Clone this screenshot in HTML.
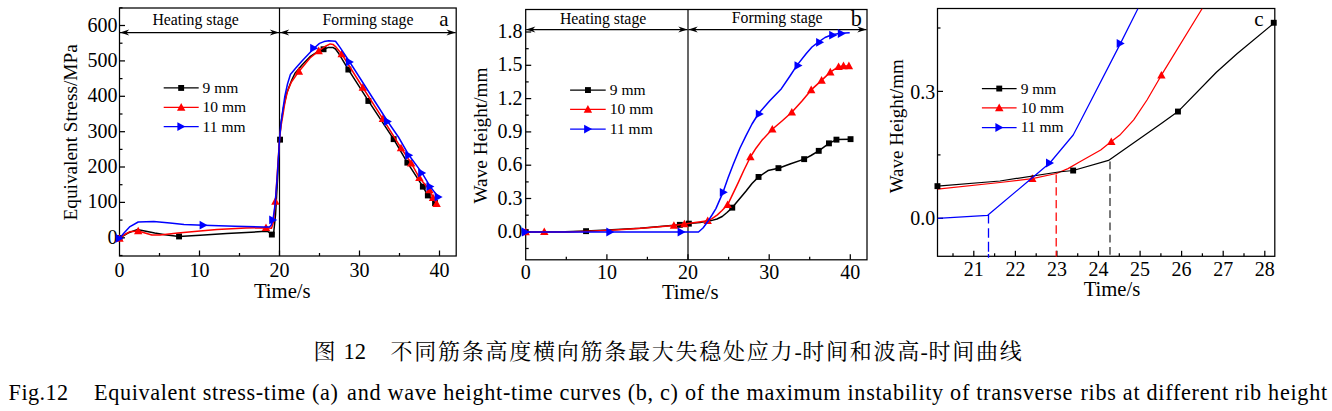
<!DOCTYPE html>
<html><head><meta charset="utf-8"><title>Fig.12</title>
<style>
html,body{margin:0;padding:0;background:#fff;}
body{width:1332px;height:411px;overflow:hidden;font-family:"Liberation Serif",serif;}
svg{display:block;font-family:"Liberation Serif",serif;}
svg text{fill:#000;}
</style></head><body>
<svg width="1332" height="411" viewBox="0 0 1332 411">
<rect width="1332" height="411" fill="#fff"/>
<rect x="119.5" y="8.0" width="336.7" height="248.0" fill="none" stroke="#000" stroke-width="1.25"/>
<line x1="199.5" y1="256.0" x2="199.5" y2="250.5" stroke="#000" stroke-width="1.25" /><line x1="279.5" y1="256.0" x2="279.5" y2="250.5" stroke="#000" stroke-width="1.25" /><line x1="359.5" y1="256.0" x2="359.5" y2="250.5" stroke="#000" stroke-width="1.25" /><line x1="439.5" y1="256.0" x2="439.5" y2="250.5" stroke="#000" stroke-width="1.25" /><line x1="159.5" y1="256.0" x2="159.5" y2="253.0" stroke="#000" stroke-width="1.25" /><line x1="239.5" y1="256.0" x2="239.5" y2="253.0" stroke="#000" stroke-width="1.25" /><line x1="319.5" y1="256.0" x2="319.5" y2="253.0" stroke="#000" stroke-width="1.25" /><line x1="399.5" y1="256.0" x2="399.5" y2="253.0" stroke="#000" stroke-width="1.25" /><text x="119.5" y="276.7" font-size="20.00" text-anchor="middle" >0</text><text x="199.5" y="276.7" font-size="20.00" text-anchor="middle" >10</text><text x="279.5" y="276.7" font-size="20.00" text-anchor="middle" >20</text><text x="359.5" y="276.7" font-size="20.00" text-anchor="middle" >30</text><text x="439.5" y="276.7" font-size="20.00" text-anchor="middle" >40</text>
<line x1="119.5" y1="237.8" x2="125.0" y2="237.8" stroke="#000" stroke-width="1.25" /><line x1="119.5" y1="202.4" x2="125.0" y2="202.4" stroke="#000" stroke-width="1.25" /><line x1="119.5" y1="167.0" x2="125.0" y2="167.0" stroke="#000" stroke-width="1.25" /><line x1="119.5" y1="131.7" x2="125.0" y2="131.7" stroke="#000" stroke-width="1.25" /><line x1="119.5" y1="96.3" x2="125.0" y2="96.3" stroke="#000" stroke-width="1.25" /><line x1="119.5" y1="60.9" x2="125.0" y2="60.9" stroke="#000" stroke-width="1.25" /><line x1="119.5" y1="25.5" x2="125.0" y2="25.5" stroke="#000" stroke-width="1.25" /><line x1="119.5" y1="255.5" x2="122.5" y2="255.5" stroke="#000" stroke-width="1.25" /><line x1="119.5" y1="220.1" x2="122.5" y2="220.1" stroke="#000" stroke-width="1.25" /><line x1="119.5" y1="184.7" x2="122.5" y2="184.7" stroke="#000" stroke-width="1.25" /><line x1="119.5" y1="149.4" x2="122.5" y2="149.4" stroke="#000" stroke-width="1.25" /><line x1="119.5" y1="114.0" x2="122.5" y2="114.0" stroke="#000" stroke-width="1.25" /><line x1="119.5" y1="78.6" x2="122.5" y2="78.6" stroke="#000" stroke-width="1.25" /><line x1="119.5" y1="43.2" x2="122.5" y2="43.2" stroke="#000" stroke-width="1.25" /><line x1="119.5" y1="7.8" x2="122.5" y2="7.8" stroke="#000" stroke-width="1.25" /><text x="117.5" y="243.8" font-size="20.00" text-anchor="end" >0</text><text x="117.5" y="208.4" font-size="20.00" text-anchor="end" >100</text><text x="117.5" y="173.0" font-size="20.00" text-anchor="end" >200</text><text x="117.5" y="137.7" font-size="20.00" text-anchor="end" >300</text><text x="117.5" y="102.3" font-size="20.00" text-anchor="end" >400</text><text x="117.5" y="66.9" font-size="20.00" text-anchor="end" >500</text><text x="117.5" y="31.5" font-size="20.00" text-anchor="end" >600</text>
<text x="282.3" y="297.8" font-size="20.70" text-anchor="middle" >Time/s</text>
<text transform="translate(77.3,132.4) rotate(-90)" font-size="19.30" text-anchor="middle">Equivalent Stress/MPa</text>
<line x1="279.5" y1="8.0" x2="279.5" y2="256.0" stroke="#000" stroke-width="1.20" />
<line x1="120.0" y1="32.6" x2="279.0" y2="32.6" stroke="#000" stroke-width="1.20" /><polygon points="120.0,32.6 129.2,29.6 126.4,32.6 129.2,35.6" fill="#000"/><polygon points="279.0,32.6 269.8,29.6 272.6,32.6 269.8,35.6" fill="#000"/>
<line x1="280.0" y1="32.6" x2="455.7" y2="32.6" stroke="#000" stroke-width="1.20" /><polygon points="280.0,32.6 289.2,29.6 286.4,32.6 289.2,35.6" fill="#000"/><polygon points="455.7,32.6 446.5,29.6 449.3,32.6 446.5,35.6" fill="#000"/>
<text x="195.6" y="24.6" font-size="15.80" text-anchor="middle" >Heating stage</text>
<text x="368.0" y="24.6" font-size="15.80" text-anchor="middle" >Forming stage</text>
<text x="444.0" y="25.5" font-size="21.00" text-anchor="middle" >a</text>
<line x1="163.7" y1="87.9" x2="198.7" y2="87.9" stroke="#000" stroke-width="1.25" /><rect x="178.2" y="85.0" width="5.9" height="5.9" fill="#000"/><text x="202.6" y="92.8" font-size="15.50" text-anchor="start" >9 mm</text><line x1="163.7" y1="107.4" x2="198.7" y2="107.4" stroke="#ff0000" stroke-width="1.25" /><polygon points="181.2,103.1 177.0,110.7 185.4,110.7" fill="#ff0000"/><text x="202.6" y="112.3" font-size="15.50" text-anchor="start" >10 mm</text><line x1="163.7" y1="126.6" x2="198.7" y2="126.6" stroke="#0000ff" stroke-width="1.25" /><polygon points="185.4,126.6 177.4,122.2 177.4,131.0" fill="#0000ff"/><text x="202.6" y="131.5" font-size="15.50" text-anchor="start" >11 mm</text>
<polyline points="119.5,238.0 128.0,233.0 137.0,229.6 146.0,231.2 154.7,233.0 165.0,234.8 179.0,236.4 200.0,235.2 226.7,233.5 261.8,231.6 268.0,231.6 271.9,234.5 273.5,234.5 275.5,215.0 277.5,180.0 279.5,139.5 281.0,123.0 283.4,108.0 286.5,94.0 289.4,86.0 292.0,79.5 295.0,73.2 302.0,65.0 310.0,56.7 317.0,52.0 323.5,49.3 328.0,47.6 332.8,47.4 335.5,49.0 338.2,52.7 348.4,69.6 368.4,100.9 393.6,139.2 407.4,162.6 422.9,186.6 427.8,195.4 436.6,204.0" fill="none" stroke="#000" stroke-width="1.50" stroke-linejoin="round"/>
<rect x="116.5" y="235.1" width="5.9" height="5.9" fill="#000"/>
<rect x="176.1" y="233.5" width="5.9" height="5.9" fill="#000"/>
<rect x="268.9" y="231.6" width="5.9" height="5.9" fill="#000"/>
<rect x="277.1" y="136.7" width="5.9" height="5.9" fill="#000"/>
<rect x="320.6" y="46.3" width="5.9" height="5.9" fill="#000"/>
<rect x="345.4" y="66.6" width="5.9" height="5.9" fill="#000"/>
<rect x="365.4" y="98.0" width="5.9" height="5.9" fill="#000"/>
<rect x="390.7" y="136.2" width="5.9" height="5.9" fill="#000"/>
<rect x="404.4" y="159.7" width="5.9" height="5.9" fill="#000"/>
<rect x="419.9" y="183.7" width="5.9" height="5.9" fill="#000"/>
<rect x="424.9" y="192.5" width="5.9" height="5.9" fill="#000"/>
<rect x="432.1" y="200.1" width="5.9" height="5.9" fill="#000"/>
<polyline points="119.5,238.5 124.0,235.0 129.5,231.8 138.2,231.0 145.0,233.0 151.8,235.0 160.0,235.0 178.0,233.0 200.0,231.0 217.0,229.6 246.0,228.0 266.0,227.7 271.5,228.2 273.5,222.0 275.4,201.4 277.5,170.0 279.5,140.0 281.0,126.0 282.8,115.6 285.0,102.0 287.4,91.5 291.4,82.0 298.9,71.4 310.0,58.0 318.7,50.9 325.0,46.5 330.2,43.9 333.0,44.4 335.5,46.6 341.7,54.0 362.8,87.5 382.9,118.8 401.0,148.0 411.2,163.2 419.4,177.8 429.6,190.0 433.0,197.7 436.6,203.6" fill="none" stroke="#ff0000" stroke-width="1.50" stroke-linejoin="round"/>
<polygon points="119.5,234.2 115.3,241.8 123.7,241.8" fill="#ff0000"/>
<polygon points="138.2,226.7 134.0,234.3 142.4,234.3" fill="#ff0000"/>
<polygon points="266.0,223.4 261.8,231.0 270.2,231.0" fill="#ff0000"/>
<polygon points="275.4,197.1 271.2,204.7 279.6,204.7" fill="#ff0000"/>
<polygon points="298.9,67.1 294.7,74.7 303.1,74.7" fill="#ff0000"/>
<polygon points="318.7,46.6 314.5,54.2 322.9,54.2" fill="#ff0000"/>
<polygon points="341.7,49.7 337.5,57.3 345.9,57.3" fill="#ff0000"/>
<polygon points="362.8,83.2 358.6,90.8 367.0,90.8" fill="#ff0000"/>
<polygon points="382.9,114.5 378.7,122.1 387.1,122.1" fill="#ff0000"/>
<polygon points="401.0,143.7 396.8,151.3 405.2,151.3" fill="#ff0000"/>
<polygon points="411.2,158.9 407.0,166.5 415.4,166.5" fill="#ff0000"/>
<polygon points="419.4,173.5 415.2,181.1 423.6,181.1" fill="#ff0000"/>
<polygon points="429.6,185.7 425.4,193.3 433.8,193.3" fill="#ff0000"/>
<polygon points="433.0,193.4 428.8,201.0 437.2,201.0" fill="#ff0000"/>
<polygon points="436.6,199.3 432.4,206.9 440.8,206.9" fill="#ff0000"/>
<polyline points="119.5,238.3 124.0,233.0 130.0,226.6 138.2,222.0 153.8,221.6 170.0,222.9 184.0,224.4 203.4,225.2 235.0,226.2 263.7,227.1 269.5,226.9 271.3,225.0 273.0,219.7 275.0,205.0 277.0,180.0 278.3,160.0 279.5,140.0 280.7,126.0 282.0,115.6 284.7,97.0 287.5,84.0 290.4,74.5 296.0,67.8 302.0,61.0 314.0,48.2 319.5,43.4 324.0,41.6 328.8,40.7 335.5,41.2 340.0,47.4 349.7,62.0 387.7,121.5 398.4,137.0 409.0,155.3 422.0,172.9 430.2,186.6 438.4,197.0" fill="none" stroke="#0000ff" stroke-width="1.50" stroke-linejoin="round"/>
<polygon points="123.7,238.3 115.7,233.9 115.7,242.7" fill="#0000ff"/>
<polygon points="207.6,225.2 199.6,220.8 199.6,229.6" fill="#0000ff"/>
<polygon points="277.2,219.9 269.2,215.5 269.2,224.3" fill="#0000ff"/>
<polygon points="318.2,48.2 310.2,43.8 310.2,52.6" fill="#0000ff"/>
<polygon points="353.9,62.0 345.9,57.6 345.9,66.4" fill="#0000ff"/>
<polygon points="391.9,121.5 383.9,117.1 383.9,125.9" fill="#0000ff"/>
<polygon points="413.2,155.3 405.2,150.9 405.2,159.7" fill="#0000ff"/>
<polygon points="426.2,172.9 418.2,168.5 418.2,177.3" fill="#0000ff"/>
<polygon points="434.4,186.6 426.4,182.2 426.4,191.0" fill="#0000ff"/>
<polygon points="442.6,197.0 434.6,192.6 434.6,201.4" fill="#0000ff"/>
<rect x="525.7" y="9.5" width="341.3" height="250.3" fill="none" stroke="#000" stroke-width="1.25"/>
<line x1="606.9" y1="259.8" x2="606.9" y2="254.3" stroke="#000" stroke-width="1.25" /><line x1="688.0" y1="259.8" x2="688.0" y2="254.3" stroke="#000" stroke-width="1.25" /><line x1="769.2" y1="259.8" x2="769.2" y2="254.3" stroke="#000" stroke-width="1.25" /><line x1="850.3" y1="259.8" x2="850.3" y2="254.3" stroke="#000" stroke-width="1.25" /><line x1="566.3" y1="259.8" x2="566.3" y2="256.8" stroke="#000" stroke-width="1.25" /><line x1="647.4" y1="259.8" x2="647.4" y2="256.8" stroke="#000" stroke-width="1.25" /><line x1="728.6" y1="259.8" x2="728.6" y2="256.8" stroke="#000" stroke-width="1.25" /><line x1="809.7" y1="259.8" x2="809.7" y2="256.8" stroke="#000" stroke-width="1.25" /><text x="525.7" y="279.2" font-size="20.00" text-anchor="middle" >0</text><text x="606.9" y="279.2" font-size="20.00" text-anchor="middle" >10</text><text x="688.0" y="279.2" font-size="20.00" text-anchor="middle" >20</text><text x="769.2" y="279.2" font-size="20.00" text-anchor="middle" >30</text><text x="850.3" y="279.2" font-size="20.00" text-anchor="middle" >40</text>
<line x1="525.7" y1="231.8" x2="531.2" y2="231.8" stroke="#000" stroke-width="1.25" /><line x1="525.7" y1="198.5" x2="531.2" y2="198.5" stroke="#000" stroke-width="1.25" /><line x1="525.7" y1="165.2" x2="531.2" y2="165.2" stroke="#000" stroke-width="1.25" /><line x1="525.7" y1="131.9" x2="531.2" y2="131.9" stroke="#000" stroke-width="1.25" /><line x1="525.7" y1="98.6" x2="531.2" y2="98.6" stroke="#000" stroke-width="1.25" /><line x1="525.7" y1="65.3" x2="531.2" y2="65.3" stroke="#000" stroke-width="1.25" /><line x1="525.7" y1="32.0" x2="531.2" y2="32.0" stroke="#000" stroke-width="1.25" /><line x1="525.7" y1="248.5" x2="528.7" y2="248.5" stroke="#000" stroke-width="1.25" /><line x1="525.7" y1="215.2" x2="528.7" y2="215.2" stroke="#000" stroke-width="1.25" /><line x1="525.7" y1="181.9" x2="528.7" y2="181.9" stroke="#000" stroke-width="1.25" /><line x1="525.7" y1="148.6" x2="528.7" y2="148.6" stroke="#000" stroke-width="1.25" /><line x1="525.7" y1="115.2" x2="528.7" y2="115.2" stroke="#000" stroke-width="1.25" /><line x1="525.7" y1="81.9" x2="528.7" y2="81.9" stroke="#000" stroke-width="1.25" /><line x1="525.7" y1="48.7" x2="528.7" y2="48.7" stroke="#000" stroke-width="1.25" /><text x="522.6" y="237.8" font-size="20.00" text-anchor="end" >0.0</text><text x="522.6" y="204.5" font-size="20.00" text-anchor="end" >0.3</text><text x="522.6" y="171.2" font-size="20.00" text-anchor="end" >0.6</text><text x="522.6" y="137.9" font-size="20.00" text-anchor="end" >0.9</text><text x="522.6" y="104.6" font-size="20.00" text-anchor="end" >1.2</text><text x="522.6" y="71.3" font-size="20.00" text-anchor="end" >1.5</text><text x="522.6" y="38.0" font-size="20.00" text-anchor="end" >1.8</text>
<text x="690.3" y="299.2" font-size="20.70" text-anchor="middle" >Time/s</text>
<text transform="translate(486.5,135.5) rotate(-90)" font-size="19.30" text-anchor="middle">Wave Height/mm</text>
<line x1="688.0" y1="9.5" x2="688.0" y2="259.8" stroke="#000" stroke-width="1.20" />
<line x1="526.2" y1="29.6" x2="687.5" y2="29.6" stroke="#000" stroke-width="1.20" /><polygon points="526.2,29.6 535.4,26.6 532.6,29.6 535.4,32.6" fill="#000"/><polygon points="687.5,29.6 678.3,26.6 681.1,29.6 678.3,32.6" fill="#000"/>
<line x1="688.5" y1="29.6" x2="866.5" y2="29.6" stroke="#000" stroke-width="1.20" /><polygon points="688.5,29.6 697.7,26.6 694.9,29.6 697.7,32.6" fill="#000"/><polygon points="866.5,29.6 857.3,26.6 860.1,29.6 857.3,32.6" fill="#000"/>
<text x="603.1" y="23.9" font-size="15.80" text-anchor="middle" >Heating stage</text>
<text x="777.2" y="23.4" font-size="15.80" text-anchor="middle" >Forming stage</text>
<text x="856.2" y="26.3" font-size="22.20" text-anchor="middle" >b</text>
<line x1="570.1" y1="90.1" x2="605.7" y2="90.1" stroke="#000" stroke-width="1.25" /><rect x="585.0" y="87.1" width="5.9" height="5.9" fill="#000"/><text x="609.8" y="95.0" font-size="15.50" text-anchor="start" >9 mm</text><line x1="570.1" y1="109.4" x2="605.7" y2="109.4" stroke="#ff0000" stroke-width="1.25" /><polygon points="587.9,105.1 583.7,112.7 592.1,112.7" fill="#ff0000"/><text x="609.8" y="114.3" font-size="15.50" text-anchor="start" >10 mm</text><line x1="570.1" y1="129.1" x2="605.7" y2="129.1" stroke="#0000ff" stroke-width="1.25" /><polygon points="592.1,129.1 584.1,124.7 584.1,133.5" fill="#0000ff"/><text x="609.8" y="134.0" font-size="15.50" text-anchor="start" >11 mm</text>
<polyline points="525.7,232.0 565.0,231.8 586.0,231.1 612.0,229.8 640.0,228.2 679.9,224.8 688.9,223.6 700.0,222.4 711.0,220.6 717.0,219.0 722.2,216.5 727.0,212.5 732.3,207.6 745.9,191.2 752.0,183.5 758.6,176.9 768.0,170.6 778.5,168.2 790.0,164.0 804.2,159.1 811.0,155.5 818.7,150.8 829.0,143.3 836.5,139.6 850.6,139.2" fill="none" stroke="#000" stroke-width="1.50" stroke-linejoin="round"/>
<rect x="522.8" y="229.1" width="5.9" height="5.9" fill="#000"/>
<rect x="583.1" y="228.2" width="5.9" height="5.9" fill="#000"/>
<rect x="676.9" y="221.9" width="5.9" height="5.9" fill="#000"/>
<rect x="685.9" y="220.7" width="5.9" height="5.9" fill="#000"/>
<rect x="729.3" y="204.7" width="5.9" height="5.9" fill="#000"/>
<rect x="755.6" y="174.0" width="5.9" height="5.9" fill="#000"/>
<rect x="775.5" y="165.2" width="5.9" height="5.9" fill="#000"/>
<rect x="801.2" y="156.2" width="5.9" height="5.9" fill="#000"/>
<rect x="815.8" y="147.9" width="5.9" height="5.9" fill="#000"/>
<rect x="826.0" y="140.4" width="5.9" height="5.9" fill="#000"/>
<rect x="833.5" y="136.7" width="5.9" height="5.9" fill="#000"/>
<rect x="847.6" y="136.2" width="5.9" height="5.9" fill="#000"/>
<polyline points="525.7,232.0 565.0,231.9 590.0,231.2 615.0,230.0 645.0,228.0 673.9,225.5 684.4,224.0 707.7,220.8 712.0,218.7 717.4,214.9 722.0,210.5 727.6,204.8 738.0,183.2 744.0,170.0 750.4,157.0 756.0,148.2 761.7,140.6 772.3,129.3 782.0,121.0 791.8,112.3 802.0,101.0 811.2,89.9 821.6,80.4 830.3,72.1 838.6,66.7 843.5,65.9 848.9,65.9" fill="none" stroke="#ff0000" stroke-width="1.50" stroke-linejoin="round"/>
<polygon points="525.7,227.7 521.5,235.3 529.9,235.3" fill="#ff0000"/>
<polygon points="544.3,227.5 540.1,235.1 548.5,235.1" fill="#ff0000"/>
<polygon points="673.9,221.2 669.7,228.8 678.1,228.8" fill="#ff0000"/>
<polygon points="684.4,219.7 680.2,227.3 688.6,227.3" fill="#ff0000"/>
<polygon points="707.7,216.5 703.5,224.1 711.9,224.1" fill="#ff0000"/>
<polygon points="727.6,200.5 723.4,208.1 731.8,208.1" fill="#ff0000"/>
<polygon points="750.4,152.7 746.2,160.3 754.6,160.3" fill="#ff0000"/>
<polygon points="772.3,125.0 768.1,132.6 776.5,132.6" fill="#ff0000"/>
<polygon points="791.8,108.0 787.6,115.6 796.0,115.6" fill="#ff0000"/>
<polygon points="811.2,85.6 807.0,93.2 815.4,93.2" fill="#ff0000"/>
<polygon points="821.6,76.1 817.4,83.7 825.8,83.7" fill="#ff0000"/>
<polygon points="830.3,67.8 826.1,75.4 834.5,75.4" fill="#ff0000"/>
<polygon points="838.6,62.4 834.4,70.0 842.8,70.0" fill="#ff0000"/>
<polygon points="843.5,61.6 839.3,69.2 847.7,69.2" fill="#ff0000"/>
<polygon points="848.9,61.6 844.7,69.2 853.1,69.2" fill="#ff0000"/>
<polyline points="525.7,232.0 698.5,232.0 703.0,228.0 708.0,221.2 712.0,215.0 715.9,208.6 723.1,192.1 728.0,178.0 733.3,164.3 740.0,148.0 745.9,135.8 752.0,124.0 758.6,113.5 770.0,100.5 781.4,88.7 790.0,76.0 797.1,65.1 806.3,53.5 812.0,47.0 818.7,41.9 825.0,37.5 831.9,34.8 840.6,33.2 849.7,32.8" fill="none" stroke="#0000ff" stroke-width="1.50" stroke-linejoin="round"/>
<polygon points="529.9,232.0 521.9,227.6 521.9,236.4" fill="#0000ff"/>
<polygon points="614.3,232.0 606.3,227.6 606.3,236.4" fill="#0000ff"/>
<polygon points="685.6,232.0 677.6,227.6 677.6,236.4" fill="#0000ff"/>
<polygon points="727.8,192.3 719.8,187.9 719.8,196.7" fill="#0000ff"/>
<polygon points="763.8,113.9 755.8,109.5 755.8,118.3" fill="#0000ff"/>
<polygon points="802.5,65.6 794.5,61.2 794.5,70.0" fill="#0000ff"/>
<polygon points="824.1,42.3 816.1,37.9 816.1,46.7" fill="#0000ff"/>
<polygon points="837.2,35.2 829.2,30.8 829.2,39.6" fill="#0000ff"/>
<polygon points="845.8,33.5 837.8,29.1 837.8,37.9" fill="#0000ff"/>
<clipPath id="cc"><rect x="937.5" y="8.5" width="337.3" height="247.8"/></clipPath>
<rect x="937.5" y="8.5" width="337.3" height="247.8" fill="none" stroke="#000" stroke-width="1.25"/>
<line x1="973.8" y1="256.3" x2="973.8" y2="250.8" stroke="#000" stroke-width="1.25" /><line x1="1015.4" y1="256.3" x2="1015.4" y2="250.8" stroke="#000" stroke-width="1.25" /><line x1="1056.9" y1="256.3" x2="1056.9" y2="250.8" stroke="#000" stroke-width="1.25" /><line x1="1098.5" y1="256.3" x2="1098.5" y2="250.8" stroke="#000" stroke-width="1.25" /><line x1="1140.1" y1="256.3" x2="1140.1" y2="250.8" stroke="#000" stroke-width="1.25" /><line x1="1181.6" y1="256.3" x2="1181.6" y2="250.8" stroke="#000" stroke-width="1.25" /><line x1="1223.2" y1="256.3" x2="1223.2" y2="250.8" stroke="#000" stroke-width="1.25" /><line x1="1264.8" y1="256.3" x2="1264.8" y2="250.8" stroke="#000" stroke-width="1.25" /><line x1="953.0" y1="256.3" x2="953.0" y2="253.3" stroke="#000" stroke-width="1.25" /><line x1="994.6" y1="256.3" x2="994.6" y2="253.3" stroke="#000" stroke-width="1.25" /><line x1="1036.2" y1="256.3" x2="1036.2" y2="253.3" stroke="#000" stroke-width="1.25" /><line x1="1077.7" y1="256.3" x2="1077.7" y2="253.3" stroke="#000" stroke-width="1.25" /><line x1="1119.3" y1="256.3" x2="1119.3" y2="253.3" stroke="#000" stroke-width="1.25" /><line x1="1160.9" y1="256.3" x2="1160.9" y2="253.3" stroke="#000" stroke-width="1.25" /><line x1="1202.4" y1="256.3" x2="1202.4" y2="253.3" stroke="#000" stroke-width="1.25" /><line x1="1244.0" y1="256.3" x2="1244.0" y2="253.3" stroke="#000" stroke-width="1.25" /><text x="973.8" y="276.2" font-size="20.00" text-anchor="middle" >21</text><text x="1015.4" y="276.2" font-size="20.00" text-anchor="middle" >22</text><text x="1056.9" y="276.2" font-size="20.00" text-anchor="middle" >23</text><text x="1098.5" y="276.2" font-size="20.00" text-anchor="middle" >24</text><text x="1140.1" y="276.2" font-size="20.00" text-anchor="middle" >25</text><text x="1181.6" y="276.2" font-size="20.00" text-anchor="middle" >26</text><text x="1223.2" y="276.2" font-size="20.00" text-anchor="middle" >27</text><text x="1264.8" y="276.2" font-size="20.00" text-anchor="middle" >28</text>
<line x1="937.5" y1="218.3" x2="943.0" y2="218.3" stroke="#000" stroke-width="1.25" /><line x1="937.5" y1="91.4" x2="943.0" y2="91.4" stroke="#000" stroke-width="1.25" /><line x1="937.5" y1="154.9" x2="940.5" y2="154.9" stroke="#000" stroke-width="1.25" /><line x1="937.5" y1="28.0" x2="940.5" y2="28.0" stroke="#000" stroke-width="1.25" /><text x="935.3" y="225.4" font-size="20.00" text-anchor="end" >0.0</text><text x="935.3" y="98.5" font-size="20.00" text-anchor="end" >0.3</text>
<text x="1112.0" y="295.8" font-size="20.70" text-anchor="middle" >Time/s</text>
<text transform="translate(902.9,126.3) rotate(-90)" font-size="19.00" text-anchor="middle">Wave Height/mm</text>
<text x="1258.8" y="26.3" font-size="21.00" text-anchor="middle" >c</text>
<line x1="981.9" y1="88.6" x2="1016.6" y2="88.6" stroke="#000" stroke-width="1.25" /><rect x="996.3" y="85.6" width="5.9" height="5.9" fill="#000"/><text x="1020.7" y="93.5" font-size="15.50" text-anchor="start" >9 mm</text><line x1="981.9" y1="107.9" x2="1016.6" y2="107.9" stroke="#ff0000" stroke-width="1.25" /><polygon points="999.2,103.6 995.0,111.2 1003.5,111.2" fill="#ff0000"/><text x="1020.7" y="112.8" font-size="15.50" text-anchor="start" >10 mm</text><line x1="981.9" y1="127.5" x2="1016.6" y2="127.5" stroke="#0000ff" stroke-width="1.25" /><polygon points="1003.4,127.5 995.4,123.1 995.4,131.9" fill="#0000ff"/><text x="1020.7" y="132.4" font-size="15.50" text-anchor="start" >11 mm</text>
<g clip-path="url(#cc)">
<polyline points="937.5,189.1 1000.0,182.5 1032.3,178.6 1056.4,173.5 1068.0,168.6 1079.0,162.3 1100.7,150.0 1111.0,141.8 1120.5,134.4 1133.7,119.9 1147.0,100.0 1161.4,75.2 1202.2,8.5" fill="none" stroke="#ff0000" stroke-width="1.25" stroke-linejoin="round"/>
</g>
<polygon points="1032.3,174.3 1028.1,181.9 1036.5,181.9" fill="#ff0000"/>
<polygon points="1111.3,137.4 1107.1,145.0 1115.5,145.0" fill="#ff0000"/>
<polygon points="1161.4,70.9 1157.2,78.5 1165.6,78.5" fill="#ff0000"/>
<g clip-path="url(#cc)">
<polyline points="937.5,186.1 1000.0,181.0 1058.4,172.0 1073.2,170.5 1108.5,160.4 1160.6,124.0 1178.0,111.6 1216.4,72.3 1237.0,53.7 1274.5,22.7" fill="none" stroke="#000" stroke-width="1.25" stroke-linejoin="round"/>
<polyline points="937.5,218.3 987.7,215.3 1029.6,180.0 1049.8,163.0 1073.2,135.0 1080.0,122.0 1120.5,43.4 1138.0,8.5" fill="none" stroke="#0000ff" stroke-width="1.25" stroke-linejoin="round"/>
</g>
<line x1="988.5" y1="215.0" x2="988.5" y2="257.7" stroke="#0000ff" stroke-width="1.30" stroke-dasharray="8.6 4.6 9.6 4.0 10 2.2 20"/>
<line x1="1056.2" y1="174.5" x2="1056.2" y2="256.8" stroke="#ff0000" stroke-width="1.25" stroke-dasharray="8.4 4.3"/>
<line x1="1110.0" y1="161.5" x2="1110.0" y2="257.7" stroke="#2a2a2a" stroke-width="1.25" stroke-dasharray="7.8 4.4"/>
<rect x="934.5" y="183.2" width="5.9" height="5.9" fill="#000"/>
<rect x="1070.2" y="167.6" width="5.9" height="5.9" fill="#000"/>
<rect x="1175.0" y="108.6" width="5.9" height="5.9" fill="#000"/>
<rect x="1270.8" y="19.8" width="5.9" height="5.9" fill="#000"/>
<polygon points="1054.0,163.0 1046.0,158.6 1046.0,167.4" fill="#0000ff"/>
<polygon points="1124.7,43.4 1116.7,39.0 1116.7,47.8" fill="#0000ff"/>
<text x="313.6" y="359.3" font-size="22" font-family='"Liberation Serif", "Noto Serif CJK SC", serif' text-anchor="start">图</text>
<text x="390.5 414.25 438 461.75 485.5 509.25 533 556.75 580.5 604.25 628 651.75 675.5 699.25 723 746.75 770.5" y="359.3" font-size="22" font-family='"Liberation Serif", "Noto Serif CJK SC", serif' text-anchor="start">不同筋条高度横向筋条最大失稳处应力</text>
<text x="794.4" y="359.0" font-size="22.00" text-anchor="start" >-</text>
<text x="802.35 826.1 849.85 873.6 897.35" y="359.3" font-size="22" font-family='"Liberation Serif", "Noto Serif CJK SC", serif' text-anchor="start">时间和波高</text>
<text x="920.5" y="359.0" font-size="22.00" text-anchor="start" >-</text>
<text x="928.6 952.35 976.1 999.85" y="359.3" font-size="22" font-family='"Liberation Serif", "Noto Serif CJK SC", serif' text-anchor="start">时间曲线</text>
<text x="343.6" y="359.0" font-size="22.50" text-anchor="start" >12</text>
<text x="8.6" y="399.5" font-size="22.2" textLength="59.5" lengthAdjust="spacing">Fig.12</text>
<text x="94.1" y="399.5" font-size="22.2" textLength="243.8" lengthAdjust="spacing">Equivalent stress-time (a)</text>
<text x="347.1" y="399.5" font-size="22.2" textLength="725.3" lengthAdjust="spacing">and wave height-time curves (b, c) of the maximum instability of transverse</text>
<text x="1080.5" y="399.5" font-size="22.2" textLength="246.6" lengthAdjust="spacing">ribs at different rib height</text>
</svg>
</body></html>
